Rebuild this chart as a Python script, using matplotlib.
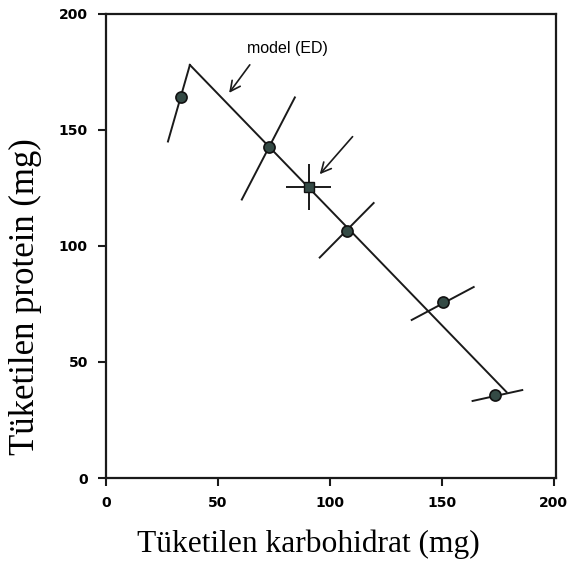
import matplotlib.pyplot as plt
import numpy as np

# points (carbohydrate, protein)
karb = [33.5, 72.8, 107.6, 150.4, 174.0]
prot = [164.0, 142.7, 106.5, 75.9, 35.8]

# slanted rails through each point: (x0, y0, x1, y1)
rail_x0 = [27.7, 60.7, 95.5, 136.6, 163.8]
rail_y0 = [145.0, 120.0, 95.0, 68.1, 33.2]
rail_x1 = [37.5, 84.4, 119.6, 164.3, 186.0]
rail_y1 = [178.0, 164.0, 118.5, 82.3, 37.9]

# model line (ED)
model_x = [37.5, 179.0]
model_y = [178.0, 37.0]

# square point with error cross
sq_x, sq_y = 90.6, 125.4
sq_xerr, sq_yerr = 10.0, 10.0

xticks = [0, 50, 100, 150, 200]
yticks = [0, 50, 100, 150, 200]

fig = plt.figure(figsize=(5.79, 5.78), dpi=100)
ax = fig.add_axes([0.183, 0.173, 0.777, 0.803])

line_c = '#1a1a1a'
mark_c = '#344a45'

ax.plot(model_x, model_y, color=line_c, lw=1.4, zorder=2)
for x0, y0, x1, y1 in zip(rail_x0, rail_y0, rail_x1, rail_y1):
    ax.plot([x0, x1], [y0, y1], color=line_c, lw=1.4, zorder=2)

ax.errorbar(sq_x, sq_y, xerr=sq_xerr, yerr=sq_yerr, fmt='s', color=line_c,
            mfc=mark_c, mec='#111111', ms=7, elinewidth=1.4, capsize=0, zorder=3)
ax.plot(karb, prot, 'o', mfc=mark_c, mec='#111111', ms=8, mew=1.2, zorder=3)

ax.annotate('', xy=(54.3, 165), xytext=(65, 179),
            arrowprops=dict(arrowstyle='->', color=line_c, lw=1.2, mutation_scale=18))
ax.text(63, 185, 'model (ED)', fontsize=11.5, family='Liberation Sans', va='center')
ax.annotate('', xy=(94.7, 130), xytext=(111, 148),
            arrowprops=dict(arrowstyle='->', color=line_c, lw=1.2, mutation_scale=18))

ax.set_xlim(0, 201)
ax.set_ylim(0, 200)
ax.set_xticks(xticks)
ax.set_yticks(yticks)
for lab in ax.get_xticklabels() + ax.get_yticklabels():
    lab.set_family('DejaVu Sans')
    lab.set_fontweight('bold')
    lab.set_fontsize(10)
ax.tick_params(direction='out', length=6, width=1.5, color=line_c, pad=7)
for s in ax.spines.values():
    s.set_linewidth(1.6)
    s.set_color(line_c)

ax.set_xlabel('Tüketilen karbohidrat (mg)', family='Liberation Serif', fontsize=22.7)
ax.set_ylabel('Tüketilen protein (mg)', family='Liberation Serif', fontsize=25)
ax.xaxis.set_label_coords(0.45, -0.112)
ax.yaxis.set_label_coords(-0.142, 0.39)

fig.savefig('out.png', dpi=100)
